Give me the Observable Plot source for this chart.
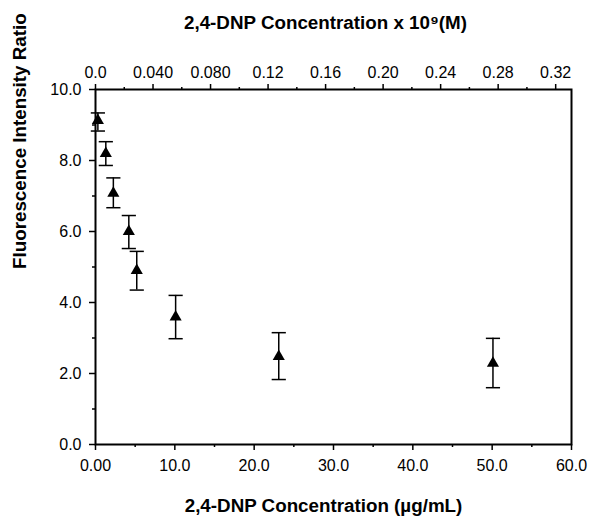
<!DOCTYPE html>
<html><head><meta charset="utf-8">
<script src="https://cdn.jsdelivr.net/npm/d3@7"></script>
<script src="https://cdn.jsdelivr.net/npm/@observablehq/plot@0.6"></script>
<style>
body{margin:0;background:#fff;}
svg{font-family:"Liberation Sans",Arial,sans-serif;}
g[aria-label$="tick label"]{font-size:16px;}
</style>
</head><body><div id="chart"></div>
<script>
// Data (x in µg/mL, y = fluorescence intensity ratio, with error bar bounds)
const conc = [0.3, 1.3, 2.25, 4.2, 5.2, 10.1, 23.1, 50.1];
const ratio = [9.13, 8.2, 7.08, 6.0, 4.9, 3.59, 2.48, 2.29];
const errHi = [9.34, 8.53, 7.51, 6.45, 5.44, 4.2, 3.15, 2.99];
const errLo = [8.83, 7.86, 6.67, 5.52, 4.35, 2.98, 1.83, 1.6];

const bottomTicks = [0, 10, 20, 30, 40, 50, 60];
const bottomLabels = ["0.00", "10.0", "20.0", "30.0", "40.0", "50.0", "60.0"];
const bottomMinor = [5, 15, 25, 35, 45, 55];
const yTicks = [0, 2, 4, 6, 8, 10];
const yLabels = ["0.0", "2.0", "4.0", "6.0", "8.0", "10.0"];
const yMinor = [1, 3, 5, 7, 9];
const topTicksM = [0, 0.04, 0.08, 0.12, 0.16, 0.20, 0.24, 0.28, 0.32];
const topLabels = ["0.0", "0.040", "0.080", "0.12", "0.16", "0.20", "0.24", "0.28", "0.32"];
const topMinorM = [0.02, 0.06, 0.10, 0.14, 0.18, 0.22, 0.26, 0.30];
const molarPerUg = 0.331 / 60; // ×10^9 M per µg/mL

const data = conc.map((x, i) => ({x, y: ratio[i], hi: errHi[i], lo: errLo[i]}));

const capSymbol = {draw(ctx, size) { const w = Math.sqrt(size); ctx.moveTo(-w, 0); ctx.lineTo(w, 0); }};

const titleOpts = {text: d => d, fontSize: 18.8, fontWeight: "bold", lineAnchor: "middle"};

const chart = Plot.plot({
  width: 591, height: 519,
  marginLeft: 95, marginRight: 20, marginTop: 89, marginBottom: 75,
  style: {fontFamily: "Liberation Sans, Arial, sans-serif", color: "#000", background: "#fff"},
  x: {domain: [0, 60]},
  y: {domain: [0, 10]},
  marks: [
    Plot.axisX({anchor: "bottom", ticks: bottomTicks, tickFormat: d => bottomLabels[bottomTicks.indexOf(d)], tickSize: 6, tickPadding: 9, strokeWidth: 1.5, label: null}),
    Plot.axisX({anchor: "bottom", ticks: bottomMinor, tickSize: 3, text: null, strokeWidth: 1.5, label: null}),
    Plot.axisX({anchor: "top", ticks: topTicksM.map(v => v / molarPerUg), tickFormat: d => topLabels[Math.round(d * molarPerUg / 0.04)], tickSize: 6, tickPadding: 6, strokeWidth: 1.5, label: null}),
    Plot.axisX({anchor: "top", ticks: topMinorM.map(v => v / molarPerUg), tickSize: 3, text: null, strokeWidth: 1.5, label: null}),
    Plot.axisY({anchor: "left", ticks: yTicks, tickFormat: d => yLabels[yTicks.indexOf(d)], tickSize: 6, tickPadding: 8, strokeWidth: 1.5, label: null}),
    Plot.axisY({anchor: "left", ticks: yMinor, tickSize: 3, text: null, strokeWidth: 1.5, label: null}),
    Plot.frame({stroke: "#000", strokeWidth: 2}),
    Plot.ruleX(data, {x: "x", y1: "lo", y2: "hi", stroke: "#000", strokeWidth: 1.5}),
    Plot.dot(data, {x: "x", y: "hi", symbol: capSymbol, r: 4, stroke: "#000", strokeWidth: 1.5}),
    Plot.dot(data, {x: "x", y: "lo", symbol: capSymbol, r: 4, stroke: "#000", strokeWidth: 1.5}),
    Plot.dot(data, {x: "x", y: "y", symbol: "triangle", r: 4.5, fill: "#000", stroke: "none"}),
    Plot.text(["2,4-DNP Concentration (µg/mL)"], {...titleOpts, frameAnchor: "bottom", dx: -10, dy: 61}),
    Plot.text(["2,4-DNP Concentration x 10⁹(M)"], {...titleOpts, frameAnchor: "top", dx: -8, dy: -67}),
    Plot.text(["Fluorescence Intensity Ratio"], {...titleOpts, frameAnchor: "left", dx: -76, dy: 2, rotate: -90})
  ]
});
document.getElementById("chart").appendChild(chart);
</script></body></html>
